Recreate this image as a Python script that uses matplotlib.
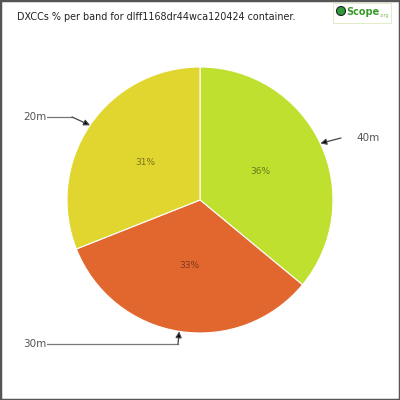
import numpy as np
import matplotlib
matplotlib.use('Agg')
import matplotlib.pyplot as plt
from matplotlib.patches import Rectangle, Circle

bands = ['40m', '30m', '20m']
shares = [36, 33, 31]
colors = ['#bfe02f', '#e2672f', '#e0d62f']
title = 'DXCCs % per band for dlff1168dr44wca120424 container.'

R = 133.0  # pie radius in pixels

def px(x, y):
    return (x - 200) / R, (200 - y) / R

fig = plt.figure(figsize=(4, 4), dpi=100)
ax = fig.add_axes([0, 0, 1, 1])
ax.axis('off')

wedges, texts, autotexts = ax.pie(shares, colors=colors, startangle=90, counterclock=False,
                                  autopct='%1.0f%%', pctdistance=0.5,
                                  wedgeprops=dict(edgecolor='white', linewidth=0.8),
                                  textprops=dict(fontsize=6.5, color=(0, 0, 0, 0.45)))
ax.set_aspect('equal')
ax.set_xlim(-200 / R, 200 / R)
ax.set_ylim(-200 / R, 200 / R)

# label leaders: text position and elbow point (pixel coords)
leaders = {
    '40m': dict(text=(356, 138), ha='left', path=[(341, 138)]),
    '20m': dict(text=(46, 117), ha='right', path=[(47, 117), (72, 117)]),
    '30m': dict(text=(46, 344), ha='right', path=[(47, 344), (178, 344)]),
}
for w, band in zip(wedges, bands):
    mid = np.deg2rad((w.theta1 + w.theta2) / 2)
    tip = (np.cos(mid), np.sin(mid))
    ld = leaders[band]
    pts = [px(*p) for p in ld['path']]
    if len(pts) > 1:
        ax.plot([p[0] for p in pts], [p[1] for p in pts], color='#777777', lw=0.9)
    ax.annotate('', xy=tip, xytext=pts[-1],
                arrowprops=dict(arrowstyle='-|>', color='#777777', lw=0.9,
                                mutation_scale=9, shrinkA=0, shrinkB=0,
                                fc='black', ec='#444444'))
    tx, ty = px(*ld['text'])
    ax.text(tx, ty, band, ha=ld['ha'], va='center', fontsize=7.5, color='#555555')

fig.text(17 / 400, 1 - 17 / 400, title, ha='left', va='center', fontsize=6.9, color='#222222')

# logo
fig.patches.append(Rectangle((333 / 400, 1 - 23 / 400), 58 / 400, 20 / 400, transform=fig.transFigure,
                             fill=False, ec='#dde8c0', lw=0.6))
fig.patches.append(Circle((341 / 400, 1 - 11 / 400), 4.5 / 400, transform=fig.transFigure,
                          fc='#2e9a3a', ec='#222222', lw=0.8))
fig.text(346 / 400, 1 - 12 / 400, 'Scope', ha='left', va='center', fontsize=7, color='#3a9a2a',
         fontweight='bold')
fig.text(379 / 400, 1 - 15 / 400, '.org', ha='left', va='center', fontsize=3.5, color='#88bb66')

# outer border
fig.patches.append(Rectangle((0, 0), 1, 1, transform=fig.transFigure, fill=False,
                             ec='#555555', lw=2.5))

fig.savefig('out.png', dpi=100)
